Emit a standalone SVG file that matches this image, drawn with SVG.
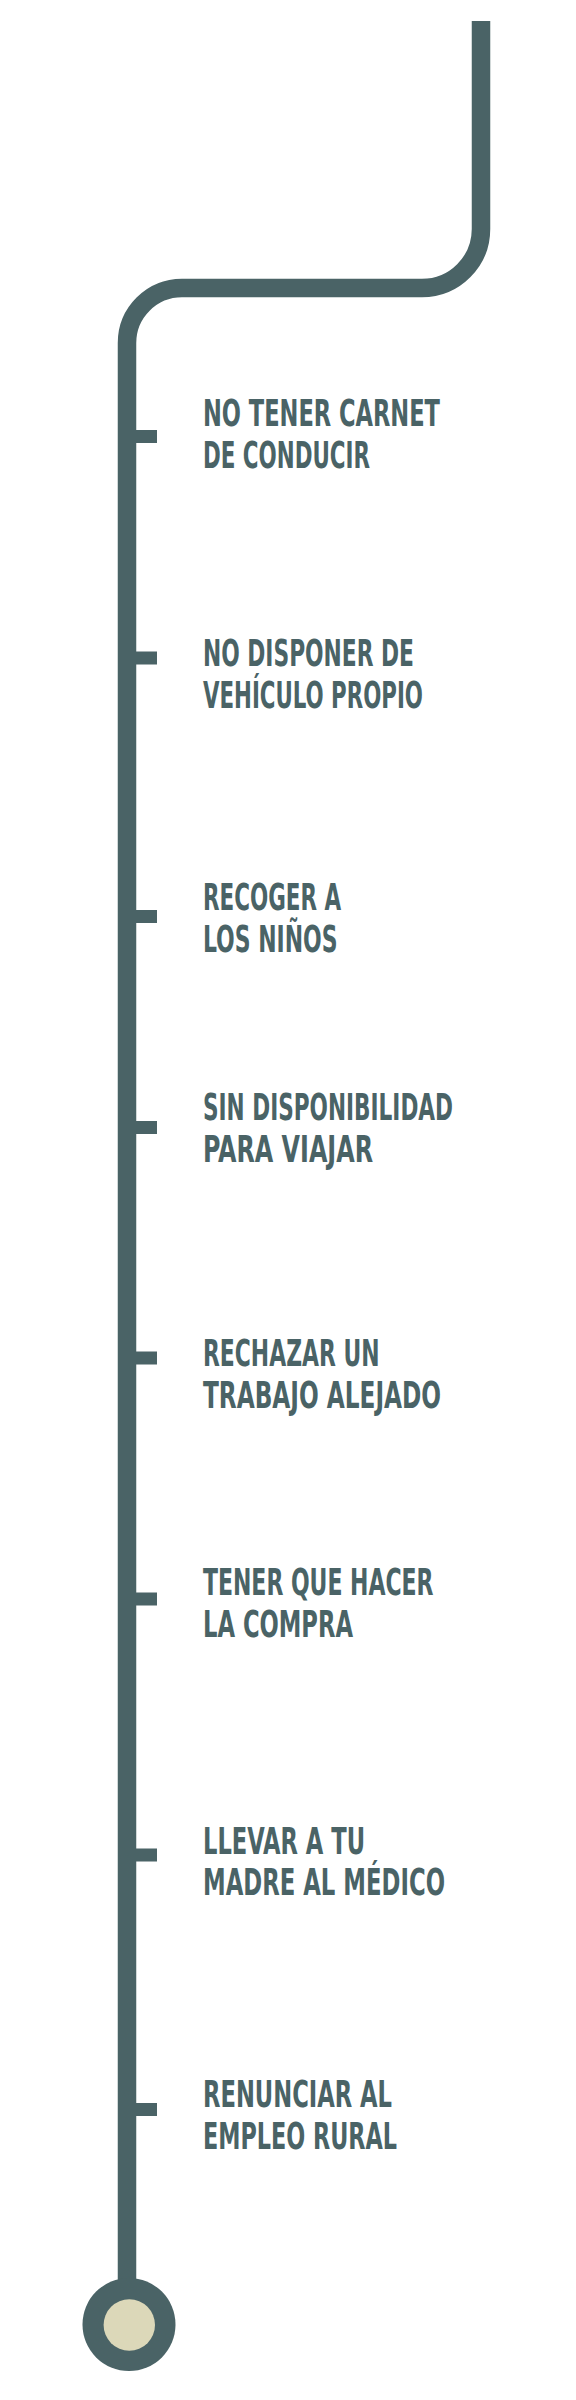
<svg xmlns="http://www.w3.org/2000/svg" width="576" height="2400" viewBox="0 0 576 2400">
<style>
.bg{fill:#ffffff}
.line{fill:none;stroke:#4a6366;stroke-width:18.5}
.tick{fill:#4a6366}
.lbl{font-family:"DejaVu Sans Condensed","DejaVu Sans",sans-serif;font-stretch:condensed;font-weight:bold;font-size:37.5px;fill:#4a6366}
</style>
<rect class="bg" x="0" y="0" width="576" height="2400"/>
<g id="connectors">
<path class="line" d="M 481 21 V 229 A 59 59 0 0 1 422 288 H 182 A 55 55 0 0 0 127 343 V 2290"/>
</g>
<g id="n1"><rect class="tick" x="136" y="430" width="21" height="13"/>
<text class="lbl" x="203" y="426" textLength="237" lengthAdjust="spacingAndGlyphs">NO TENER CARNET</text>
<text class="lbl" x="203" y="468" textLength="167" lengthAdjust="spacingAndGlyphs">DE CONDUCIR</text></g>
<g id="n2"><rect class="tick" x="136" y="651.5" width="21" height="13"/>
<text class="lbl" x="203" y="665.7" textLength="211" lengthAdjust="spacingAndGlyphs">NO DISPONER DE</text>
<text class="lbl" x="203" y="708" textLength="220" lengthAdjust="spacingAndGlyphs">VEHÍCULO PROPIO</text></g>
<g id="n3"><rect class="tick" x="136" y="910" width="21" height="13"/>
<text class="lbl" x="203" y="910" textLength="138" lengthAdjust="spacingAndGlyphs">RECOGER A</text>
<text class="lbl" x="203" y="951.7" textLength="134.5" lengthAdjust="spacingAndGlyphs">LOS NIÑOS</text></g>
<g id="n4"><rect class="tick" x="136" y="1121" width="21" height="13"/>
<text class="lbl" x="203" y="1120" textLength="250" lengthAdjust="spacingAndGlyphs">SIN DISPONIBILIDAD</text>
<text class="lbl" x="203" y="1161.7" textLength="170" lengthAdjust="spacingAndGlyphs">PARA VIAJAR</text></g>
<g id="n5"><rect class="tick" x="136" y="1351.5" width="21" height="13"/>
<text class="lbl" x="203" y="1366" textLength="176.5" lengthAdjust="spacingAndGlyphs">RECHAZAR UN</text>
<text class="lbl" x="203" y="1408" textLength="238" lengthAdjust="spacingAndGlyphs">TRABAJO ALEJADO</text></g>
<g id="n6"><rect class="tick" x="136" y="1592.5" width="21" height="13"/>
<text class="lbl" x="203" y="1595" textLength="230.5" lengthAdjust="spacingAndGlyphs">TENER QUE HACER</text>
<text class="lbl" x="203" y="1636.7" textLength="150" lengthAdjust="spacingAndGlyphs">LA COMPRA</text></g>
<g id="n7"><rect class="tick" x="136" y="1848.5" width="21" height="13"/>
<text class="lbl" x="203" y="1854.3" textLength="162" lengthAdjust="spacingAndGlyphs">LLEVAR A TU</text>
<text class="lbl" x="203" y="1895" textLength="242" lengthAdjust="spacingAndGlyphs">MADRE AL MÉDICO</text></g>
<g id="n8"><rect class="tick" x="136" y="2103" width="21" height="13"/>
<text class="lbl" x="203" y="2106.7" textLength="189" lengthAdjust="spacingAndGlyphs">RENUNCIAR AL</text>
<text class="lbl" x="203" y="2149" textLength="194" lengthAdjust="spacingAndGlyphs">EMPLEO RURAL</text></g>
<g id="end">
<circle cx="129" cy="2324.5" r="46.5" fill="#4a6366"/>
<circle cx="129.3" cy="2325" r="25.7" fill="#dcd8b9"/>
</g>
</svg>
